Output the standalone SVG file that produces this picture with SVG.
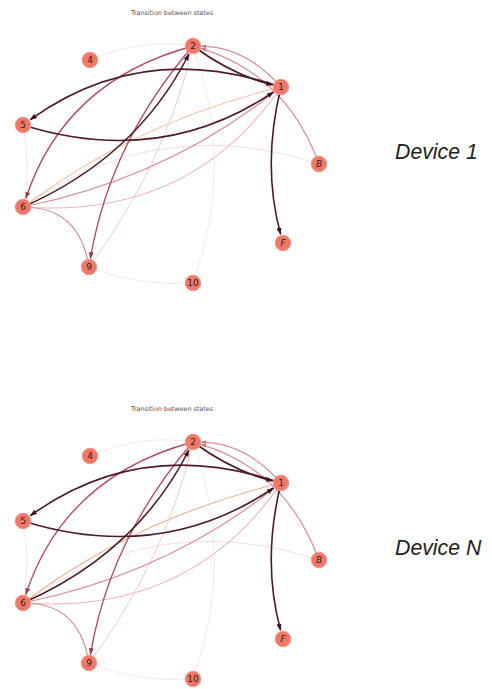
<svg xmlns="http://www.w3.org/2000/svg" width="492" height="689" viewBox="0 0 492 689">
<style>
.title{font-family:"DejaVu Sans",sans-serif;font-size:6.4px;fill:#555;text-anchor:middle}
.lab{font-family:"DejaVu Sans",sans-serif;font-size:9px;fill:#3a1a1a;text-anchor:middle;dominant-baseline:central}
.it{font-style:italic}
.node circle{fill:#ef7868;stroke:#f39a8c;stroke-width:1}
.dev{font-family:"Liberation Sans",Arial,sans-serif;font-style:italic;font-size:21.3px;fill:#222}
.e{fill:none}
.faint{stroke:#f3eaea;stroke-width:1}
.faintp{stroke:#f4dede;stroke-width:1}
.peach{stroke:#f3bda6;stroke-width:1.1}
.lpink{stroke:#edb4b4;stroke-width:1.1}
.vlpink{stroke:#f1cccc;stroke-width:1}
.pink{stroke:#d98e96;stroke-width:1.2}
.red{stroke:#b04a5a;stroke-width:1.3}
.dark{stroke:#4d1a2a;stroke-width:1.6}
</style>
<defs>
<marker id="ad" markerUnits="userSpaceOnUse" markerWidth="7" markerHeight="5" refX="6.5" refY="2.5" orient="auto"><path d="M0,0 L7,2.5 L0,5 z" fill="#3d1020"/></marker>
<marker id="ar" markerUnits="userSpaceOnUse" markerWidth="7" markerHeight="5" refX="6.5" refY="2.5" orient="auto"><path d="M0,0 L7,2.5 L0,5 z" fill="#9a3a4a"/></marker>
<marker id="ap" markerUnits="userSpaceOnUse" markerWidth="6" markerHeight="4" refX="5.5" refY="2" orient="auto"><path d="M0,0 L6,2 L0,4 z" fill="#c97880"/></marker>
</defs>
<rect width="492" height="689" fill="#fff"/>

<g id="graph1">
<text class="title" x="172" y="14.5">Transition between states</text>
<g id="g1-edges">
<path class="e faint" d="M23,125 Q31,166 23,207"/>
<path class="e faint" d="M90,60 Q140,38 193,46"/>
<path class="e faint" d="M89,267 Q140,287 193,283"/>
<path class="e faint" d="M193,283 Q236,164 193,46"/>
<path class="e faintp" d="M319,164 Q160,111.5 23,207"/>
<path class="e peach" d="M281,87 Q140,121 30,202"/>
<path class="e lpink" d="M23,207 Q185.6,219 276,94.3"/>
<path class="e vlpink" d="M89,267 Q163,167 191,54.3"/>
<path class="e pink" d="M23,207 Q166,178 274,92.3"/>
<path class="e pink" d="M281,87 Q246,47 201,46.2" marker-end="url(#ap)"/>
<path class="e pink" d="M319,164 Q285.5,73.5 200.7,48.3" marker-end="url(#ap)"/>
<path class="e pink" d="M89,267 Q80,210.6 31,207.5"/>
<path class="e red" d="M193,46 Q64.5,80.6 25.8,198.5" marker-end="url(#ar)"/>
<path class="e red" d="M193,46 Q110,142 90.4,258.6" marker-end="url(#ar)"/>
<path class="e dark" d="M281,87 Q142,39 30.3,119.7" marker-end="url(#ad)"/>
<path class="e dark" d="M23,125 Q161,168 273.5,92" marker-end="url(#ad)"/>
<path class="e dark" d="M23,207 Q137,157 189,54" marker-end="url(#ad)"/>
<path class="e dark" d="M193,46 Q233,75.3 272.7,85" marker-end="url(#ad)"/>
<path class="e dark" d="M281,87 Q261.7,165.3 280.6,234.3" marker-end="url(#ad)"/>
</g>
<g id="g1-n1" class="node"><circle cx="281" cy="87" r="7.8"/><text class="lab" x="281" y="87">1</text></g>
<g id="g1-n2" class="node"><circle cx="193" cy="46" r="7.8"/><text class="lab" x="193" y="46">2</text></g>
<g id="g1-n4" class="node"><circle cx="90" cy="60" r="7.8"/><text class="lab" x="90" y="60">4</text></g>
<g id="g1-n5" class="node"><circle cx="23" cy="125" r="7.8"/><text class="lab" x="23" y="125">5</text></g>
<g id="g1-n6" class="node"><circle cx="23" cy="207" r="7.8"/><text class="lab" x="23" y="207">6</text></g>
<g id="g1-nB" class="node"><circle cx="319" cy="164" r="7.8"/><text class="lab it" x="319" y="164">B</text></g>
<g id="g1-nF" class="node"><circle cx="283" cy="243" r="7.8"/><text class="lab it" x="283" y="243">F</text></g>
<g id="g1-n9" class="node"><circle cx="89" cy="267" r="7.8"/><text class="lab" x="89" y="267">9</text></g>
<g id="g1-n10" class="node"><circle cx="193" cy="283" r="7.8"/><text class="lab" x="193" y="283">10</text></g>
</g>
<text id="label1" class="dev" x="395" y="159">Device 1</text>

<g id="graph2" transform="translate(0,396)">
<text class="title" x="172" y="14.5">Transition between states</text>
<g id="g2-edges">
<path class="e faint" d="M23,125 Q31,166 23,207"/>
<path class="e faint" d="M90,60 Q140,38 193,46"/>
<path class="e faint" d="M89,267 Q140,287 193,283"/>
<path class="e faint" d="M193,283 Q236,164 193,46"/>
<path class="e faintp" d="M319,164 Q160,111.5 23,207"/>
<path class="e peach" d="M281,87 Q140,121 30,202" style="stroke:#efae92"/>
<path class="e lpink" d="M23,207 Q185.6,219 276,94.3"/>
<path class="e vlpink" d="M89,267 Q163,167 191,54.3"/>
<path class="e pink" d="M23,207 Q166,178 274,92.3"/>
<path class="e pink" d="M281,87 Q246,47 201,46.2" marker-end="url(#ap)"/>
<path class="e pink" d="M319,164 Q285.5,73.5 200.7,48.3" marker-end="url(#ap)"/>
<path class="e pink" d="M89,267 Q80,210.6 31,207.5"/>
<path class="e red" d="M193,46 Q64.5,80.6 25.8,198.5" marker-end="url(#ar)"/>
<path class="e red" d="M193,46 Q110,142 90.4,258.6" marker-end="url(#ar)"/>
<path class="e dark" d="M281,87 Q142,39 30.3,119.7" marker-end="url(#ad)"/>
<path class="e dark" d="M23,125 Q161,168 273.5,92" marker-end="url(#ad)"/>
<path class="e dark" d="M23,207 Q137,157 189,54" marker-end="url(#ad)"/>
<path class="e dark" d="M193,46 Q233,75.3 272.7,85" marker-end="url(#ad)"/>
<path class="e dark" d="M281,87 Q261.7,165.3 280.6,234.3" marker-end="url(#ad)"/>
</g>
<g id="g2-n1" class="node"><circle cx="281" cy="87" r="7.8"/><text class="lab" x="281" y="87">1</text></g>
<g id="g2-n2" class="node"><circle cx="193" cy="46" r="7.8"/><text class="lab" x="193" y="46">2</text></g>
<g id="g2-n4" class="node"><circle cx="90" cy="60" r="7.8"/><text class="lab" x="90" y="60">4</text></g>
<g id="g2-n5" class="node"><circle cx="23" cy="125" r="7.8"/><text class="lab" x="23" y="125">5</text></g>
<g id="g2-n6" class="node"><circle cx="23" cy="207" r="7.8"/><text class="lab" x="23" y="207">6</text></g>
<g id="g2-nB" class="node"><circle cx="319" cy="164" r="7.8"/><text class="lab it" x="319" y="164">B</text></g>
<g id="g2-nF" class="node"><circle cx="283" cy="243" r="7.8"/><text class="lab it" x="283" y="243">F</text></g>
<g id="g2-n9" class="node"><circle cx="89" cy="267" r="7.8"/><text class="lab" x="89" y="267">9</text></g>
<g id="g2-n10" class="node"><circle cx="193" cy="283" r="7.8"/><text class="lab" x="193" y="283">10</text></g>
</g>
<text id="label2" class="dev" x="395" y="555">Device N</text>
</svg>
